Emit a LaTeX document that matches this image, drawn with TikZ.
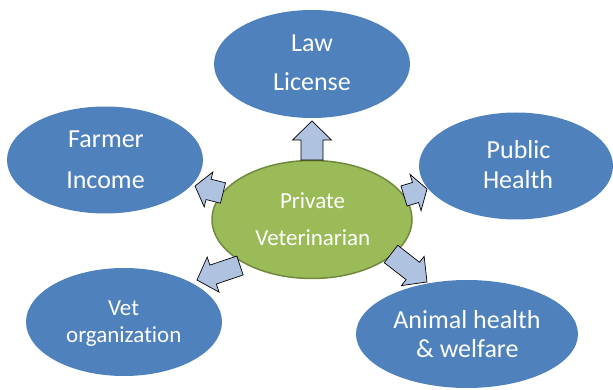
\documentclass[tikz,border=0pt]{standalone}
\usepackage{fontspec}
\setmainfont{Carlito}[RawFeature={-liga;-clig;-dlig}]
\usetikzlibrary{shapes.geometric,calc}
\definecolor{ellblue}{HTML}{4F81BD}
\definecolor{ellgreen}{HTML}{9BBB59}
\definecolor{greenline}{HTML}{71893F}
\definecolor{arrfill}{HTML}{AFC2DF}
\tikzset{
  outer/.style={ellipse, fill=ellblue, inner sep=0pt},
  centre/.style={ellipse, fill=ellgreen, draw=greenline, line width=1.5pt, inner sep=0pt},
  lbl/.style={anchor=base, text=white, inner sep=0pt, font=\fontsize{26}{30}\selectfont},
  lblsmall/.style={lbl, font=\fontsize{23}{27}\selectfont},
  blockarr/.style={fill=arrfill, draw=black, line width=0.7pt, line join=miter},
}
% #1 tail, #2 tip, #3 half shaft width, #4 half head width, #5 head length
\newcommand\blockarrow[5]{%
  \coordinate (hb) at ($(#2)!#5!(#1)$);
  \draw[blockarr]
    ($(#1)!#3!90:(#2)$) -- ($(hb)!#3!-90:(#1)$) -- ($(hb)!#4!-90:(#1)$) -- (#2)
    -- ($(hb)!#4!90:(#1)$) -- ($(hb)!#3!90:(#1)$) -- ($(#1)!#3!-90:(#2)$) -- cycle;
}
\begin{document}
\begin{tikzpicture}[x=1pt,y=-1pt]
\useasboundingbox (0,0) rectangle (613,390);
% ellipses
\node[outer, minimum width=196pt, minimum height=108pt] (law) at (312,64) {};
\node[outer, minimum width=196pt, minimum height=107pt] (farmer) at (105,160) {};
\node[outer, minimum width=194pt, minimum height=107pt] (public) at (516,166) {};
\node[outer, minimum width=196pt, minimum height=108pt] (vet) at (124,322) {};
\node[outer, minimum width=222pt, minimum height=108pt] (animal) at (467,334) {};
\node[centre, minimum width=200pt, minimum height=118pt] (pv) at (312,219.5) {};
% labels
\node[lbl] (lawA) at (312,51.7) {Law};
\node[lbl] (lawB) at (312,90.7) {License};
\node[lbl] (farA) at (106,147.7) {Farmer};
\node[lbl] (farB) at (105.5,188.3) {Income};
\node[lbl] (pubA) at (518.5,159) {Public};
\node[lbl] (pubB) at (518,189) {Health};
\node[lblsmall] (pvA) at (312.5,208.3) {Private};
\node[lblsmall] (pvB) at (312.8,245) {Veterinarian};
\node[lblsmall] (vetA) at (123.5,315.7) {Vet};
\node[lblsmall] (vetB) at (123.8,342.3) {organization};
\node[lbl] (aniA) at (467,328.3) {Animal health};
\node[lbl] (aniB) at (467.4,357.7) {\& welfare};
% arrows
\coordinate (t1) at (312,160); \coordinate (h1) at (312,121);
\coordinate (t2) at (223,193); \coordinate (h2) at (195,186);
\coordinate (t3) at (404,196); \coordinate (h3) at (427,189);
\coordinate (t4) at (240,265.5); \coordinate (h4) at (197,280);
\coordinate (t5) at (391,254); \coordinate (h5) at (427,282);
\blockarrow{t1}{h1}{11pt}{19.5pt}{19pt}
\blockarrow{t2}{h2}{10.5pt}{18pt}{14pt}
\blockarrow{t3}{h3}{10.5pt}{19pt}{12pt}
\blockarrow{t4}{h4}{10pt}{18.5pt}{17pt}
\blockarrow{t5}{h5}{11pt}{18.5pt}{18pt}
\end{tikzpicture}
\end{document}
